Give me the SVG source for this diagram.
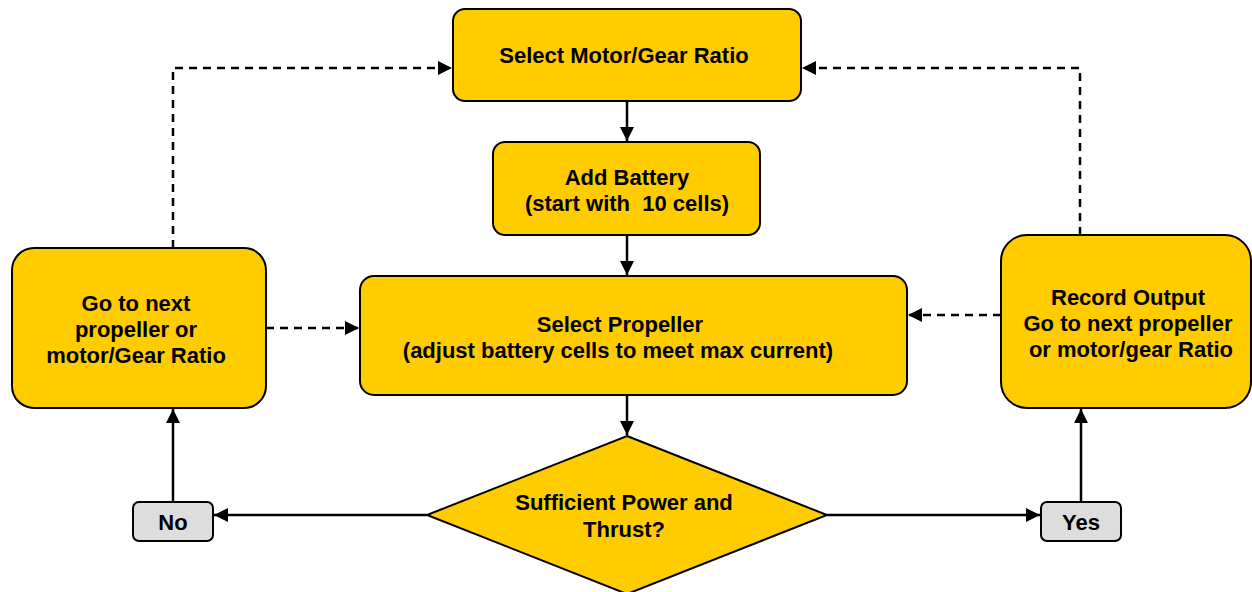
<svg xmlns="http://www.w3.org/2000/svg" width="1252" height="592" viewBox="0 0 1252 592">
<defs>
<style>
.box{fill:#FFCC00;stroke:#000;stroke-width:2}
.lbl{fill:#DDDDDD;stroke:#000;stroke-width:2}
.t{font-family:"Liberation Sans",Arial,sans-serif;font-weight:bold;font-size:22px;fill:#000;text-anchor:middle}
.c{fill:none;stroke:#000;stroke-width:2.5}
.d{stroke-dasharray:8,6}
</style>
<marker id="ah" viewBox="0 0 10 10" refX="10" refY="5" markerWidth="14" markerHeight="14" markerUnits="userSpaceOnUse" orient="auto">
<path d="M0,0 L10,5 L0,10 z" fill="#000"/>
</marker>
</defs>
<rect width="1252" height="592" fill="#fff"/>
<g id="connectors">
<line class="c" x1="627" y1="101" x2="627" y2="141" marker-end="url(#ah)"/>
<line class="c" x1="627" y1="235" x2="627" y2="275" marker-end="url(#ah)"/>
<line class="c" x1="627" y1="395" x2="627" y2="435" marker-end="url(#ah)"/>
<line class="c" x1="427" y1="515" x2="214" y2="515" marker-end="url(#ah)"/>
<line class="c" x1="827" y1="515" x2="1040" y2="515" marker-end="url(#ah)"/>
<line class="c" x1="173" y1="502" x2="173" y2="409" marker-end="url(#ah)"/>
<line class="c" x1="1081" y1="502" x2="1081" y2="409" marker-end="url(#ah)"/>
<polyline class="c d" points="173,248 173,68 452,68" marker-end="url(#ah)"/>
<polyline class="c d" points="1080,235 1080,68 802,68" marker-end="url(#ah)"/>
<line class="c d" x1="266" y1="328" x2="359" y2="328" marker-end="url(#ah)"/>
<line class="c d" x1="1001" y1="315" x2="908" y2="315" marker-end="url(#ah)"/>
</g>
<g id="motor">
<rect class="box" x="453" y="9" width="348" height="92" rx="12"/>
<text class="t" x="624" y="63">Select Motor/Gear Ratio</text>
</g>
<g id="battery">
<rect class="box" x="493" y="142" width="267" height="93" rx="12"/>
<text class="t" x="627" y="185">Add Battery</text>
<text class="t" x="627" y="211" xml:space="preserve">(start with  10 cells)</text>
</g>
<g id="propeller">
<rect class="box" x="360" y="276" width="547" height="119" rx="14"/>
<text class="t" x="620" y="332">Select Propeller</text>
<text class="t" x="618" y="358">(adjust battery cells to meet max current)</text>
</g>
<g id="goNext">
<rect class="box" x="12" y="248" width="254" height="160" rx="22"/>
<text class="t" x="136" y="311">Go to next</text>
<text class="t" x="136" y="337">propeller or</text>
<text class="t" x="136" y="363">motor/Gear Ratio</text>
</g>
<g id="record">
<rect class="box" x="1001" y="235" width="250" height="173" rx="26"/>
<text class="t" x="1128" y="305">Record Output</text>
<text class="t" x="1128" y="331">Go to next propeller</text>
<text class="t" x="1131" y="357">or motor/gear Ratio</text>
</g>
<g id="decision">
<polygon class="box" points="627,436 827,515 627,594 427,515"/>
<text class="t" x="624" y="510">Sufficient Power and</text>
<text class="t" x="624" y="537">Thrust?</text>
</g>
<g id="no">
<rect class="lbl" x="133" y="502" width="80" height="39" rx="6"/>
<text class="t" x="173" y="530">No</text>
</g>
<g id="yes">
<rect class="lbl" x="1041" y="502" width="80" height="39" rx="6"/>
<text class="t" x="1081" y="530">Yes</text>
</g>
</svg>
